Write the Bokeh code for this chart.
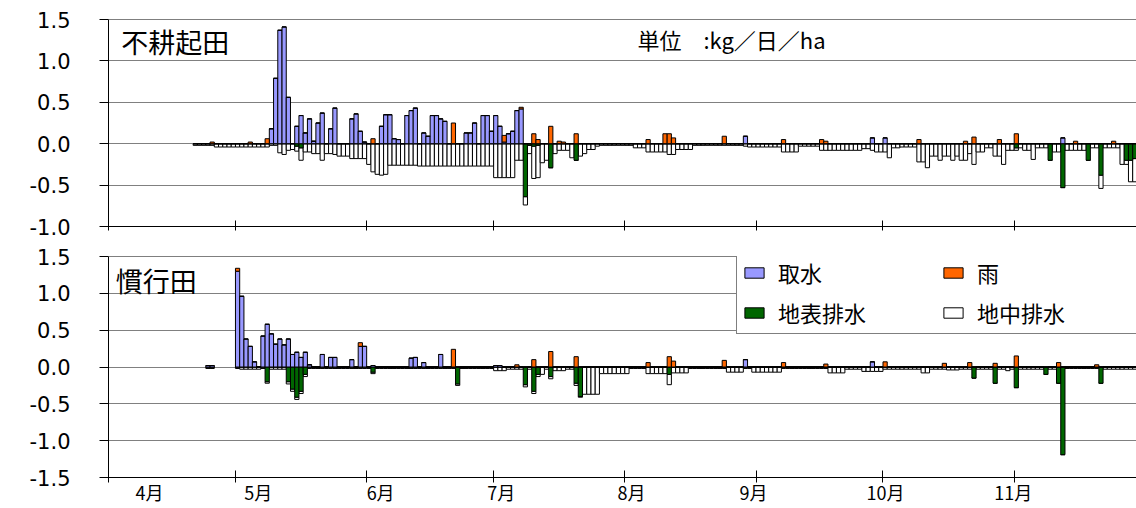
import numpy as np
from bokeh.plotting import figure
from bokeh.models import (ColumnDataSource, FixedTicker, PrintfTickFormatter, Legend,
                          LegendItem, Label, Span, Range1d)
from bokeh.layouts import column
from bokeh.embed import file_html
from bokeh.resources import INLINE

# ---------------- data (day 0 = 4月1日, values in kg/日/ha) ----------------
series_names = ["取水", "雨", "地表排水", "地中排水"]
series_colors = ["#9999FF", "#FF6600", "#006600", "#FFFFFF"]

month_labels = ["4月", "5月", "6月", "7月", "8月", "9月", "10月", "11月"]
month_start_days = [0, 30, 61, 91, 122, 153, 183, 214]
month_label_days = [9.7, 35.4, 64.3, 92.8, 123.6, 152.4, 183.6, 213.8]

# ---- 不耕起田 (no-tillage field) ----
top_title = "不耕起田"
top_start_day = 20
top_intake = {38: 0.18, 39: 0.79, 40: 1.37, 41: 1.41, 42: 0.56, 44: 0.21, 45: 0.34, 46: 0.13,
              47: 0.30, 48: 0.03, 49: 0.25, 50: 0.37, 52: 0.18, 53: 0.43, 57: 0.30, 58: 0.36,
              59: 0.15, 60: 0.02, 64: 0.21, 65: 0.35, 66: 0.35, 67: 0.06, 68: 0.05, 70: 0.34,
              71: 0.40, 72: 0.43, 74: 0.13, 75: 0.09, 76: 0.34, 77: 0.34, 78: 0.30, 79: 0.27,
              84: 0.13, 85: 0.13, 86: 0.25, 88: 0.34, 89: 0.34, 90: 0.15, 91: 0.34, 92: 0.21,
              93: 0.02, 94: 0.12, 95: 0.15, 96: 0.40, 97: 0.42, 150: 0.09, 180: 0.07, 183: 0.07,
              225: 0.07}
top_rain = {24: 0.02, 33: 0.02, 37: 0.06, 62: 0.06, 81: 0.25, 93: 0.08, 97: 0.02, 100: 0.12,
            101: 0.05, 104: 0.21, 106: 0.03, 107: 0.02, 110: 0.12, 127: 0.05, 131: 0.12,
            132: 0.12, 133: 0.07, 145: 0.09, 159: 0.05, 168: 0.05, 169: 0.03, 191: 0.05,
            202: 0.03, 204: 0.08, 210: 0.05, 214: 0.12, 228: 0.03, 237: 0.03}
top_surface = {44: 0.03, 45: 0.05, 98: 0.64, 99: 0.02, 100: 0.03, 101: 0.02, 104: 0.29,
               110: 0.20, 214: 0.05, 222: 0.20, 225: 0.53, 231: 0.20, 234: 0.38, 240: 0.20,
               241: 0.20, 242: 0.18}
top_subsurface = [
    0.02, 0.02, 0.02, 0.02, 0.02, 0.04, 0.04, 0.04, 0.04, 0.04,   # day 20-29
    0.04, 0.04, 0.04, 0.04, 0.04, 0.04, 0.04, 0.04, 0.02, 0.02,   # 30-39
    0.11, 0.13, 0.08, 0.07, 0.06, 0.15, 0.10, 0.10, 0.12, 0.12,   # 40-49
    0.20, 0.12, 0.12, 0.13, 0.15, 0.15, 0.15, 0.18, 0.18, 0.18,   # 50-59
    0.18, 0.25, 0.34, 0.37, 0.38, 0.37, 0.26, 0.26, 0.26, 0.26,   # 60-69
    0.26, 0.26, 0.26, 0.27, 0.27, 0.27, 0.27, 0.27, 0.27, 0.27,   # 70-79
    0.27, 0.27, 0.27, 0.27, 0.27, 0.27, 0.27, 0.27, 0.27, 0.27,   # 80-89
    0.27, 0.41, 0.41, 0.41, 0.41, 0.41, 0.20, 0.20, 0.10, 0.10,   # 90-99
    0.39, 0.39, 0.23, 0.20, 0.00, 0.12, 0.08, 0.08, 0.08, 0.17,   # 100-109
    0.00, 0.15, 0.12, 0.07, 0.07, 0.03, 0.02, 0.02, 0.02, 0.02,   # 110-119
    0.02, 0.02, 0.02, 0.02, 0.05, 0.05, 0.05, 0.10, 0.10, 0.10,   # 120-129
    0.10, 0.10, 0.13, 0.13, 0.07, 0.07, 0.07, 0.07, 0.02, 0.02,   # 130-139
    0.02, 0.02, 0.02, 0.02, 0.02, 0.02, 0.02, 0.02, 0.02, 0.02,   # 140-149
    0.03, 0.04, 0.04, 0.04, 0.04, 0.04, 0.04, 0.04, 0.04, 0.10,   # 150-159
    0.10, 0.10, 0.10, 0.03, 0.03, 0.03, 0.03, 0.03, 0.08, 0.08,   # 160-169
    0.08, 0.08, 0.08, 0.08, 0.08, 0.08, 0.08, 0.08, 0.06, 0.06,   # 170-179
    0.08, 0.10, 0.10, 0.10, 0.17, 0.05, 0.05, 0.04, 0.04, 0.04,   # 180-189
    0.04, 0.22, 0.22, 0.29, 0.15, 0.15, 0.20, 0.15, 0.15, 0.20,   # 190-199
    0.15, 0.20, 0.20, 0.12, 0.25, 0.10, 0.10, 0.05, 0.05, 0.15,   # 200-209
    0.15, 0.25, 0.08, 0.08, 0.03, 0.05, 0.08, 0.08, 0.19, 0.05,   # 210-219
    0.05, 0.05, 0.00, 0.10, 0.10, 0.00, 0.08, 0.08, 0.08, 0.08,   # 220-229
    0.08, 0.00, 0.05, 0.05, 0.16, 0.05, 0.05, 0.05, 0.05, 0.25,   # 230-239
    0.05, 0.26, 0.28,                                             # 240-242
]

# ---- 慣行田 (conventional field) ----
bot_title = "慣行田"
bot_start_day = 23
bot_intake = {23: 0.02, 24: 0.02, 30: 1.30, 31: 0.96, 32: 0.38, 33: 0.28, 34: 0.07, 36: 0.42,
              37: 0.58, 38: 0.45, 39: 0.31, 40: 0.38, 41: 0.30, 42: 0.38, 43: 0.17, 44: 0.20,
              45: 0.13, 46: 0.20, 47: 0.03, 50: 0.17, 52: 0.13, 53: 0.13, 57: 0.10, 59: 0.28,
              60: 0.28, 62: 0.02, 71: 0.12, 72: 0.13, 74: 0.06, 78: 0.17, 91: 0.02, 92: 0.02,
              150: 0.10, 180: 0.07}
bot_rain = {30: 0.04, 59: 0.05, 81: 0.24, 96: 0.03, 100: 0.10, 104: 0.21, 110: 0.14, 127: 0.06,
            132: 0.14, 133: 0.08, 145: 0.09, 159: 0.06, 169: 0.04, 183: 0.07, 197: 0.05,
            203: 0.06, 209: 0.05, 214: 0.15, 224: 0.06, 233: 0.03}
bot_surface = {37: 0.20, 42: 0.20, 43: 0.30, 44: 0.41, 45: 0.33, 46: 0.10, 62: 0.07, 82: 0.23,
               98: 0.24, 100: 0.33, 101: 0.10, 104: 0.13, 110: 0.22, 111: 0.40, 132: 0.10,
               204: 0.15, 209: 0.22, 214: 0.28, 221: 0.10, 224: 0.22, 225: 1.19, 234: 0.22}
bot_subsurface = [
    0.02, 0.02,                                                   # day 23-24
    None, None, None, None, None,                                 # 25-29 (no data)
    0.02, 0.03, 0.03, 0.03, 0.03, 0.03, 0.02, 0.02, 0.03, 0.03,   # 30-39
    0.03, 0.03, 0.03, 0.03, 0.03, 0.03, 0.03, 0.02, 0.02, 0.02,   # 40-49
    0.02, 0.02, 0.02, 0.02, 0.02, 0.02, 0.02, 0.02, 0.02, 0.02,   # 50-59
    0.02, 0.02, 0.02, 0.02, 0.02, 0.02, 0.02, 0.02, 0.02, 0.02,   # 60-69
    0.02, 0.02, 0.02, 0.02, 0.02, 0.02, 0.02, 0.02, 0.02, 0.02,   # 70-79
    0.02, 0.02, 0.02, 0.02, 0.02, 0.02, 0.02, 0.02, 0.02, 0.02,   # 80-89
    0.02, 0.05, 0.05, 0.05, 0.03, 0.03, 0.03, 0.03, 0.03, 0.03,   # 90-99
    0.03, 0.03, 0.10, 0.03, 0.03, 0.05, 0.05, 0.05, 0.03, 0.03,   # 100-109
    0.03, 0.01, 0.37, 0.37, 0.37, 0.37, 0.09, 0.09, 0.09, 0.09,   # 110-119
    0.09, 0.09, 0.09, 0.02, 0.02, 0.02, 0.02, 0.09, 0.09, 0.09,   # 120-129
    0.09, 0.09, 0.14, 0.08, 0.08, 0.08, 0.08, 0.02, 0.02, 0.02,   # 130-139
    0.02, 0.02, 0.02, 0.02, 0.02, 0.02, 0.07, 0.07, 0.07, 0.07,   # 140-149
    0.02, 0.02, 0.07, 0.07, 0.07, 0.07, 0.07, 0.07, 0.07, 0.02,   # 150-159
    0.02, 0.02, 0.02, 0.02, 0.02, 0.02, 0.02, 0.02, 0.02, 0.02,   # 160-169
    0.08, 0.08, 0.08, 0.08, 0.03, 0.03, 0.03, 0.03, 0.06, 0.06,   # 170-179
    0.06, 0.06, 0.06, 0.03, 0.03, 0.03, 0.03, 0.03, 0.03, 0.03,   # 180-189
    0.03, 0.03, 0.08, 0.08, 0.03, 0.03, 0.03, 0.03, 0.04, 0.04,   # 190-199
    0.04, 0.03, 0.03, 0.03, 0.00, 0.03, 0.03, 0.03, 0.03, 0.00,   # 200-209
    0.03, 0.03, 0.05, 0.03, 0.00, 0.03, 0.03, 0.03, 0.03, 0.03,   # 210-219
    0.03, 0.00, 0.03, 0.03, 0.00, 0.00, 0.02, 0.02, 0.02, 0.02,   # 220-229
    0.02, 0.02, 0.02, 0.02, 0.00, 0.03, 0.03, 0.03, 0.03, 0.03,   # 230-239
    0.03, 0.03, 0.03,                                             # 240-242
]

unit_text = "単位　:kg／日／ha"

# ---------------- styling ----------------
FONT_CJK = "Noto Sans CJK JP"
FONT_NUM = "DejaVu Sans"
X_END = 242.9
FRAME_W = 1028


def make_panel(title, start, sub_list, intake_d, rain_d, surf_d, y_lo, frame_h,
               b_top, b_bottom, bottom_axis, title_xy):
    days = start + np.arange(len(sub_list))
    keep = [v is not None for v in sub_list]
    days = days[keep]
    sub = np.array([v for v in sub_list if v is not None], dtype=float)
    intake = np.array([intake_d.get(int(d), 0.0) for d in days])
    rain = np.array([rain_d.get(int(d), 0.0) for d in days])
    surf = np.array([surf_d.get(int(d), 0.0) for d in days])
    src = ColumnDataSource(dict(
        x=days + 0.5,
        i_top=intake, r_bot=intake, r_top=intake + rain,
        s_bot=-surf, u_top=-surf, u_bot=-(surf + sub),
        zero=np.zeros(len(days)),
    ))

    p = figure(frame_width=FRAME_W, frame_height=frame_h,
               x_range=Range1d(0, X_END), y_range=Range1d(y_lo, 1.5),
               output_backend="svg", toolbar_location=None,
               min_border_left=108, min_border_right=0,
               min_border_top=b_top, min_border_bottom=b_bottom)
    p.outline_line_color = None
    p.background_fill_color = "white"
    p.border_fill_color = "white"

    kw = dict(x="x", width=1.0, source=src, line_color="black", line_width=1)
    r_sub = p.vbar(top="u_top", bottom="u_bot", fill_color=series_colors[3], **kw)
    r_surf = p.vbar(top="zero", bottom="s_bot", fill_color=series_colors[2], **kw)
    r_int = p.vbar(top="i_top", bottom="zero", fill_color=series_colors[0], **kw)
    r_rain = p.vbar(top="r_top", bottom="r_bot", fill_color=series_colors[1], **kw)

    yt = list(np.arange(y_lo, 1.5001, 0.5))
    p.yaxis.ticker = FixedTicker(ticks=yt)
    p.yaxis.formatter = PrintfTickFormatter(format="%.1f")
    p.yaxis.major_label_text_font = FONT_NUM
    p.yaxis.major_label_text_font_size = "21px"
    p.yaxis.major_label_text_color = "black"
    p.yaxis.major_tick_out = 9
    p.yaxis.major_tick_in = 0
    p.yaxis.minor_tick_line_color = None
    p.yaxis.axis_line_color = "black"
    p.yaxis.major_tick_line_color = "black"
    p.yaxis.major_label_standoff = 29

    p.ygrid.ticker = FixedTicker(ticks=yt)
    p.ygrid.grid_line_color = "#808080"
    p.ygrid.grid_line_width = 1
    p.xgrid.grid_line_color = None

    p.add_layout(Span(location=1.5, dimension="width", line_color="black", line_width=1))

    if bottom_axis:
        p.xaxis.ticker = FixedTicker(ticks=month_label_days, minor_ticks=month_start_days)
        p.xaxis.major_label_overrides = {d: lab for d, lab in zip(month_label_days, month_labels)}
        p.xaxis.major_label_text_font = FONT_CJK
        p.xaxis.major_label_text_font_size = "18px"
        p.xaxis.major_label_text_color = "black"
        p.xaxis.major_label_standoff = -4
        p.xaxis.minor_tick_in = 7
        p.xaxis.minor_tick_out = 5
    else:
        p.xaxis.ticker = FixedTicker(ticks=[], minor_ticks=month_start_days)
        p.xaxis.major_label_text_font_size = "0px"
        p.xaxis.major_label_standoff = 0
        p.xaxis.minor_tick_in = 6
        p.xaxis.minor_tick_out = 4
    p.xaxis.major_tick_in = 0
    p.xaxis.major_tick_out = 0
    p.xaxis.major_tick_line_color = None
    p.xaxis.minor_tick_line_color = "black"
    p.xaxis.axis_line_color = "black"

    p.add_layout(Label(x=title_xy[0], y=title_xy[1], text=title, text_font=FONT_CJK,
                       text_font_size="27px", text_baseline="middle", text_align="left",
                       text_color="black"))
    return p, (r_int, r_rain, r_surf, r_sub)


p_top, _ = make_panel(top_title, top_start_day, top_subsurface, top_intake, top_rain,
                      top_surface, -1.0, 207, 19, 15, False, (3.0, 1.24))
p_top.add_layout(Label(x=147.2, y=1.27, text=unit_text, text_font=FONT_CJK,
                       text_font_size="22px", text_baseline="middle", text_align="center",
                       text_color="black"))

p_bot, rs = make_panel(bot_title, bot_start_day, bot_subsurface, bot_intake, bot_rain,
                       bot_surface, -1.5, 221, 15, 31, True, (1.7, 1.18))

legend = Legend(items=[LegendItem(label=n, renderers=[r]) for n, r in zip(series_names, rs)],
                location=(628, 143), orientation="horizontal", ncols=2,
                border_line_color="black", border_line_width=1,
                background_fill_color="white", background_fill_alpha=1.0,
                label_text_font=FONT_CJK, label_text_font_size="22px",
                label_text_color="black",
                glyph_width=24, glyph_height=13, label_standoff=12,
                label_width=155, label_height=30, spacing=8, padding=5, margin=0)
p_bot.add_layout(legend)

layout = column(p_top, p_bot, spacing=0)
open("out.html", "w").write(file_html(layout, INLINE))
